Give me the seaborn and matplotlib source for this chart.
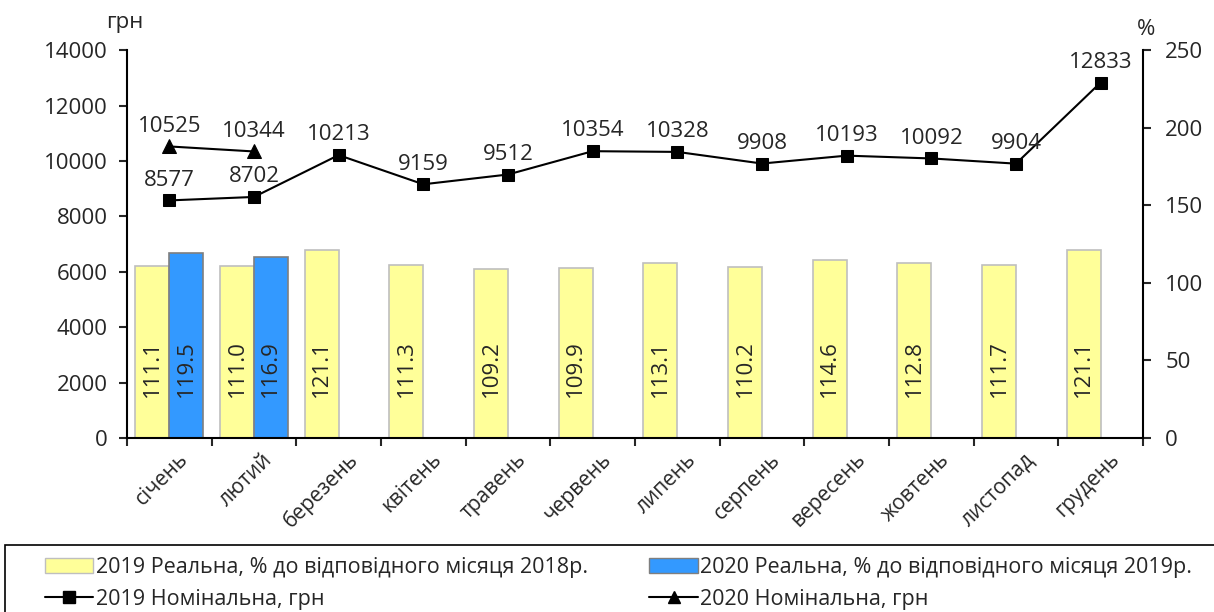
import numpy as np
import pandas as pd
import matplotlib
matplotlib.use("Agg")
import matplotlib.pyplot as plt
import matplotlib.transforms as mtransforms
import seaborn as sns
from matplotlib.patches import Patch, Rectangle
from matplotlib.lines import Line2D

months = ['січень', 'лютий', 'березень', 'квітень', 'травень', 'червень',
          'липень', 'серпень', 'вересень', 'жовтень', 'листопад', 'грудень']
real_2019 = [111.1, 111.0, 121.1, 111.3, 109.2, 109.9, 113.1, 110.2, 114.6, 112.8, 111.7, 121.1]
real_2020 = [119.5, 116.9]
nom_2019 = [8577, 8702, 10213, 9159, 9512, 10354, 10328, 9908, 10193, 10092, 9904, 12833]
nom_2020 = [10525, 10344]

lbl_r19 = '2019 Реальна, % до відповідного місяця 2018р.'
lbl_r20 = '2020 Реальна, % до відповідного місяця 2019р.'
lbl_n19 = '2019 Номінальна, грн'
lbl_n20 = '2020 Номінальна, грн'

sns.set_style("white")
plt.rcParams['font.family'] = ['Open Sans', 'DejaVu Sans']
plt.rcParams['font.size'] = 16
FS = 16

# long table for the bars
bars_df = pd.DataFrame({
    'month': months + months[:len(real_2020)],
    'year': ['2019'] * len(months) + ['2020'] * len(real_2020),
    'value': real_2019 + real_2020,
})

fig = plt.figure(figsize=(12.14, 6.12), dpi=100)
ax = fig.add_axes([0.1046, 0.2843, 0.8369, 0.6337])

yellow = '#FFFF99'
blue = '#3399FF'
sns.barplot(data=bars_df, x='month', y='value', hue='year', order=months,
            hue_order=['2019', '2020'], palette=[yellow, blue], saturation=1,
            dodge=True, width=0.8, ax=ax, legend=False, errorbar=None)
for p in ax.patches:
    if p.get_height() > 0:
        fc = p.get_facecolor()
        is_blue = fc[2] > 0.9 and fc[0] < 0.5
        p.set_edgecolor('#7F7F7F' if is_blue else '#BFBFBF')
        p.set_linewidth(1.2)
        ax.text(p.get_x() + p.get_width() / 2, 45, f'{p.get_height():.1f}',
                rotation=90, ha='center', va='center', fontsize=FS)

ax.set_ylim(0, 250)
ax.set_xlim(-0.5, 11.5)
ax.yaxis.tick_right()
ax.set_yticks(np.arange(0, 251, 50))
ax.set_xlabel('')
ax.set_ylabel('')

# lines on the twin axis (left scale)
ax2 = ax.twinx()
x = np.arange(len(months))
sns.lineplot(x=x, y=nom_2019, color='black', marker='s', markersize=9,
             markeredgecolor='black', linewidth=1.5, ax=ax2)
sns.lineplot(x=x[:len(nom_2020)], y=nom_2020, color='black', marker='^',
             markersize=10, markeredgecolor='black', linewidth=1.5, ax=ax2)
for xi, v in zip(x, nom_2019):
    ax2.annotate(str(v), (xi, v), xytext=(0, 7), textcoords='offset points',
                 ha='center', va='bottom', fontsize=FS)
for xi, v in zip(x, nom_2020):
    ax2.annotate(str(v), (xi, v), xytext=(0, 7), textcoords='offset points',
                 ha='center', va='bottom', fontsize=FS)
ax2.yaxis.tick_left()
ax2.set_ylim(0, 14000)
ax2.set_yticks(np.arange(0, 14001, 2000))
ax2.set_xlim(-0.5, 11.5)

for a in (ax, ax2):
    for s in a.spines.values():
        s.set_visible(False)
for s in ('left', 'right', 'bottom'):
    ax2.spines[s].set_visible(True)
    ax2.spines[s].set_color('black')
    ax2.spines[s].set_linewidth(1.5)

ax.tick_params(axis='y', which='major', direction='out', length=6, width=1.5,
               right=True, left=False, labelright=True, labelleft=False,
               pad=10, labelsize=FS)
ax2.tick_params(axis='y', which='major', direction='out', length=6, width=1.5,
                left=True, right=False, labelleft=True, labelright=False,
                pad=8, labelsize=FS)

# category ticks at boundaries, labels centered
ax.set_xticks(x)
ax.set_xticklabels(months, rotation=45, ha='right', rotation_mode='anchor', fontsize=15)
ax.tick_params(axis='x', which='major', length=0, pad=8)
offset = mtransforms.ScaledTranslation(8 / 100, 0, fig.dpi_scale_trans)
for t in ax.get_xticklabels():
    t.set_transform(t.get_transform() + offset)
ax.set_xticks(np.arange(-0.5, 12, 1), minor=True)
ax.tick_params(axis='x', which='minor', direction='out', length=6, width=1.5, bottom=True)
ax2.tick_params(axis='x', which='both', bottom=False, labelbottom=False)

fig.text(0.103, 0.964, 'грн', ha='center', va='center', fontsize=FS)
fig.text(0.944, 0.952, '%', ha='center', va='center', fontsize=FS)

# legend box
fig.patches.append(Rectangle((0.004, -0.05), 1.1, 0.1595, transform=fig.transFigure,
                             fill=False, edgecolor='black', linewidth=1.2))
common = dict(frameon=False, loc='upper left', fontsize=15.5, handlelength=2.25,
              handletextpad=0.1, borderaxespad=0, borderpad=0, labelspacing=0.5)
fig.legend(handles=[Patch(facecolor=yellow, edgecolor='#BFBFBF', label=lbl_r19),
                    Line2D([], [], color='black', marker='s', markersize=8,
                           linewidth=1.5, label=lbl_n19)],
           bbox_to_anchor=(0.037, 0.09), **common)
fig.legend(handles=[Patch(facecolor=blue, edgecolor='#7F7F7F', label=lbl_r20),
                    Line2D([], [], color='black', marker='^', markersize=9,
                           linewidth=1.5, label=lbl_n20)],
           bbox_to_anchor=(0.535, 0.09), **common)

fig.savefig('out.png', dpi=100)
